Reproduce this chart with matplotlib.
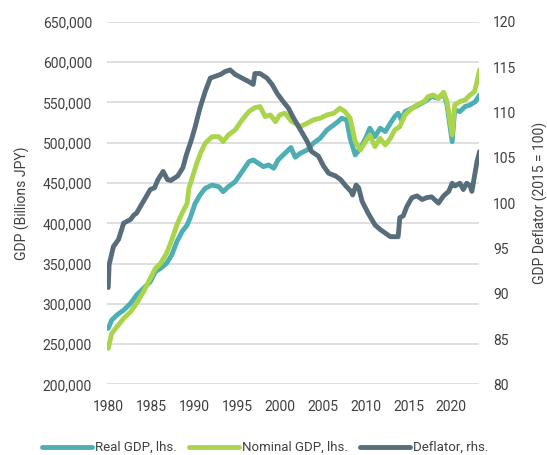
"""
Japan: real GDP, nominal GDP and GDP deflator, 1980-2023
"""

import matplotlib
matplotlib.use("Agg")
import matplotlib.pyplot as plt
from matplotlib.ticker import FuncFormatter

# Real GDP (billions JPY, thousands)
real_years = [1980.0, 1980.4, 1981.0, 1981.8, 1982.6, 1983.3, 1984.1, 1984.9, 1985.5, 1986.1,
              1986.8, 1987.4, 1988.0, 1988.6, 1989.2, 1989.6, 1990.1, 1990.7, 1991.3, 1992.1,
              1992.9, 1993.4, 1994.0, 1994.8, 1995.6, 1996.4, 1996.9, 1997.5, 1998.1, 1998.7,
              1999.3, 1999.8, 2000.4, 2001.0, 2001.3, 2001.8, 2002.4, 2003.2, 2003.9, 2004.7,
              2005.5, 2006.3, 2006.8, 2007.2, 2007.8, 2008.2, 2008.8, 2009.4, 2010.0, 2010.5,
              2011.1, 2011.7, 2012.3, 2012.9, 2013.4, 2013.8, 2014.2, 2014.6, 2015.4, 2016.2,
              2016.9, 2017.7, 2018.5, 2019.1, 2019.5, 2020.1, 2020.4, 2021.0, 2021.6, 2022.2,
              2022.8, 2023.3]
real_gdp = [269.6, 279.9, 286.1, 292.3, 300.6, 310.9, 319.2, 327.4, 339.9, 344.1,
            350.3, 360.6, 377.1, 389.5, 397.8, 408.2, 424.0, 435.1, 443.4, 447.5,
            445.4, 439.2, 445.4, 451.6, 464.0, 476.5, 478.6, 474.5, 470.3, 472.4,
            468.3, 478.6, 484.8, 491.0, 494.0, 482.0, 486.9, 491.0, 499.3, 505.5,
            515.8, 522.1, 526.2, 530.4, 528.3, 505.5, 484.8, 493.1, 505.5, 518.0,
            507.5, 518.0, 513.8, 524.2, 532.4, 536.6, 528.3, 538.6, 542.8, 546.9,
            551.0, 557.2, 555.2, 561.4, 546.9, 501.3, 540.7, 538.6, 544.8, 546.9,
            551.0, 559.3]

# Nominal GDP (billions JPY, thousands)
nom_years = [1980.0, 1980.4, 1981.0, 1981.8, 1982.6, 1983.3, 1984.1, 1984.9, 1985.5, 1986.1,
             1986.8, 1987.4, 1988.0, 1988.6, 1989.2, 1989.4, 1989.9, 1990.3, 1990.8, 1991.3,
             1992.1, 1992.9, 1993.4, 1994.0, 1994.8, 1995.6, 1996.4, 1997.1, 1997.7, 1998.3,
             1998.9, 1999.5, 2000.0, 2000.6, 2001.4, 2001.8, 2002.4, 2003.2, 2003.9, 2004.7,
             2005.5, 2006.3, 2007.0, 2007.6, 2008.2, 2008.8, 2009.4, 2010.0, 2010.5, 2011.1,
             2011.7, 2012.3, 2012.9, 2013.4, 2014.0, 2014.6, 2015.2, 2016.0, 2016.8, 2017.3,
             2017.9, 2018.5, 2019.1, 2019.5, 2020.1, 2020.4, 2021.0, 2021.6, 2022.2, 2022.7,
             2023.0, 2023.3]
nominal_gdp = [244.7, 263.3, 271.5, 282.0, 290.2, 300.6, 315.0, 331.7, 344.1, 350.3,
               362.7, 379.2, 397.9, 412.4, 424.8, 443.4, 460.0, 474.0, 488.0, 499.3,
               507.5, 507.5, 501.3, 509.6, 515.8, 528.2, 538.6, 543.6, 544.8, 532.4,
               534.5, 526.2, 534.5, 536.6, 526.2, 524.2, 520.0, 524.2, 528.3, 530.4,
               534.5, 536.6, 542.8, 538.6, 530.4, 501.3, 491.0, 501.3, 509.6, 495.1,
               505.5, 497.2, 505.5, 515.8, 520.0, 534.5, 540.7, 546.9, 551.0, 557.2,
               559.3, 555.2, 562.6, 551.0, 509.6, 546.9, 551.0, 553.1, 559.3, 563.4,
               575.8, 590.4]

# GDP deflator (2015 = 100)
defl_years = [1980.0, 1980.1, 1980.6, 1981.2, 1981.8, 1982.6, 1983.0, 1983.3, 1984.1, 1984.9,
              1985.4, 1985.8, 1986.4, 1986.9, 1987.3, 1988.1, 1988.7, 1989.1, 1989.7, 1990.1,
              1990.7, 1991.3, 1991.9, 1992.5, 1993.1, 1993.6, 1994.2, 1994.8, 1995.6, 1996.4,
              1996.9, 1997.1, 1997.7, 1998.5, 1999.1, 1999.7, 2000.4, 2001.0, 2001.6, 2002.4,
              2003.2, 2003.7, 2004.5, 2005.1, 2005.7, 2006.5, 2007.1, 2007.7, 2008.3, 2008.5,
              2008.9, 2009.2, 2009.6, 2010.3, 2011.1, 2011.7, 2012.3, 2012.9, 2013.8, 2014.0,
              2014.4, 2014.8, 2015.4, 2016.0, 2016.6, 2017.1, 2017.7, 2018.5, 2019.1, 2019.7,
              2020.1, 2020.4, 2021.0, 2021.4, 2021.8, 2022.2, 2022.4, 2022.6, 2023.0, 2023.3]
deflator = [90.7, 93.2, 95.2, 96.0, 97.8, 98.2, 98.7, 98.9, 100.2, 101.5,
            101.7, 102.6, 103.5, 102.6, 102.5, 103.0, 103.9, 105.3, 107.0, 108.3,
            110.5, 112.3, 113.8, 114.0, 114.2, 114.5, 114.7, 114.2, 113.8, 113.4,
            113.1, 114.3, 114.3, 113.8, 113.1, 112.1, 111.2, 110.5, 109.4, 108.1,
            106.8, 105.7, 105.2, 104.1, 103.3, 103.0, 102.6, 101.9, 101.3, 100.9,
            102.0, 101.7, 100.2, 98.9, 97.6, 97.1, 96.7, 96.3, 96.3, 98.4,
            98.6, 99.6, 100.6, 100.8, 100.4, 100.6, 100.7, 100.0, 100.8, 101.3,
            102.2, 101.9, 102.2, 101.5, 102.2, 101.9, 101.3, 102.4, 104.6, 105.7]

year_ticks = list(range(1980, 2021, 5))


def main():
    plt.rcParams['font.family'] = ['Roboto', 'DejaVu Sans']
    text_color = '#404040'

    fig, ax = plt.subplots(figsize=(5.47, 4.55), dpi=100)
    fig.subplots_adjust(left=0.196, right=0.876, top=0.952, bottom=0.155)
    ax2 = ax.twinx()

    line_kw = dict(lw=3.5, solid_capstyle='round', solid_joinstyle='round')
    l1, = ax.plot(real_years, [v * 1000 for v in real_gdp], color='#4DAFB4',
                  label='Real GDP, lhs.', **line_kw)
    l2, = ax.plot(nom_years, [v * 1000 for v in nominal_gdp], color='#A9D44C',
                  label='Nominal GDP, lhs.', **line_kw)
    l3, = ax2.plot(defl_years, deflator, color='#586D7A',
                   label='Deflator, rhs.', **line_kw)

    ax.set_xlim(1979.88, 2023.25)
    ax.set_ylim(200000, 650000)
    ax.set_yticks(range(200000, 650001, 50000))
    ax.yaxis.set_major_formatter(FuncFormatter(lambda v, p: f'{int(v):,}'))
    ax.set_xticks(year_ticks)
    ax2.set_ylim(80, 120)
    ax2.set_yticks(range(80, 121, 5))

    ax.grid(axis='y', color='#D9D9D9', lw=1.2)
    ax.set_axisbelow(True)
    for a in (ax, ax2):
        for s in a.spines.values():
            s.set_visible(False)
        a.tick_params(length=0, labelsize=10, colors=text_color)
    ax.tick_params(axis='y', pad=11)
    ax.tick_params(axis='x', pad=11)
    ax2.tick_params(axis='y', pad=10)

    ax.set_ylabel('GDP (Billions JPY)', fontsize=10, color=text_color, labelpad=9)
    ax2.set_ylabel('GDP Deflator (2015 = 100)', fontsize=10, color=text_color,
                   labelpad=12)

    fig.legend(handles=[l1, l2, l3], loc='center', bbox_to_anchor=(0.485, 0.016),
               ncol=3, frameon=False, fontsize=9.5, handlelength=3.8,
               handletextpad=0.25, columnspacing=0.9, labelcolor=text_color)

    fig.savefig('out.png', dpi=100)


if __name__ == "__main__":
    main()
